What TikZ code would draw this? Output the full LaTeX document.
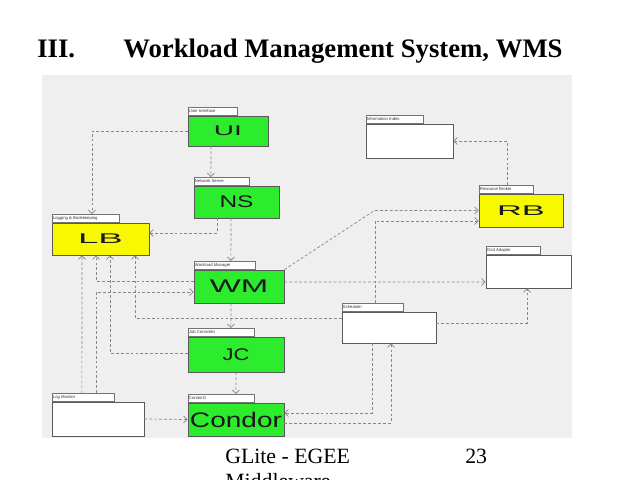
\documentclass[tikz,border=0pt]{standalone}
\usepackage{fontspec}
\setmainfont{Liberation Serif}
\newfontfamily\labelfont{Liberation Sans}
\usetikzlibrary{calc,arrows.meta,shadows}
\definecolor{panelgray}{RGB}{239,239,239}
\definecolor{boxgreen}{RGB}{45,235,45}
\definecolor{boxyellow}{RGB}{248,248,0}
\definecolor{linkgray}{RGB}{135,135,135}
\tikzset{
	pkg/.style 2 args={draw=black!65, line width=0.6pt, minimum width=#1, minimum height=#2, inner sep=0pt,
		font=\labelfont, text=black!90,
		drop shadow={shadow xshift=0.7pt, shadow yshift=-0.7pt, fill=black!55, opacity=1}},
	pkgtab/.style={draw=black!55, line width=0.4pt, fill=white, anchor=south west,
		minimum width=#1, minimum height=0.2cm, inner sep=0pt},
	tabtext/.style={anchor=west, inner sep=0.8pt, font=\labelfont\fontsize{3}{3}\selectfont, text=black!80},
	link/.style={draw=linkgray, line width=0.5pt, dash pattern=on 2pt off 1.5pt,
		-{Straight Barb[length=2.5pt,width=5pt]}},
}

\begin{document}
\begin{tikzpicture}[x=0.025cm, y=-0.025cm]
	\useasboundingbox (0,0) rectangle (640,480);
	\fill[panelgray] (42,75) rectangle (572,438);

	% title and footer
	\node[anchor=base west, inner sep=0pt, font=\bfseries\fontsize{19}{21}\selectfont] (num) at (37,57) {III.};
	\node[anchor=base west, inner sep=0pt, font=\bfseries\fontsize{19}{21}\selectfont] (title) at (123,57) {Workload Management System, WMS};
	\node[anchor=base west, inner sep=0pt, font=\fontsize{15.5}{18}\selectfont] (foot) at (225,463) {GLite - EGEE};
	\node[anchor=base west, inner sep=0pt, font=\fontsize{15.5}{18}\selectfont] (foot2) at (225,488) {Middleware};
	\node[anchor=base west, inner sep=0pt, font=\fontsize{15.5}{18}\selectfont] (page) at (465,463) {23};

	% packages
	\node[pkg={2cm}{0.75cm}, fill=boxgreen] (ui) at (228,131) {\fontsize{10}{10}\selectfont\scalebox{2}[1]{UI}};
	\node[pkg={2.125cm}{0.8cm}, fill=boxgreen] (ns) at (236.5,202) {\fontsize{12}{12}\selectfont\scalebox{1.45}[1]{NS}};
	\node[pkg={2.425cm}{0.8cm}, fill=boxyellow] (lb) at (100.5,239) {\fontsize{10}{10}\selectfont\scalebox{2.6}[1]{LB}};
	\node[pkg={2.175cm}{0.85cm}, fill=white] (ii) at (409.5,141) {};
	\node[pkg={2.1cm}{0.825cm}, fill=boxyellow] (rb) at (521,210.5) {\fontsize{10}{10}\selectfont\scalebox{2.45}[1]{RB}};
	\node[pkg={2.125cm}{0.825cm}, fill=white] (ga) at (528.5,271.5) {};
	\node[pkg={2.25cm}{0.825cm}, fill=boxgreen] (wm) at (239,286.5) {\fontsize{13}{13}\selectfont\scalebox{1.8}[1]{WM}};
	\node[pkg={2.4cm}{0.875cm}, fill=boxgreen] (jc) at (236,354.5) {\fontsize{12}{12}\selectfont\scalebox{1.3}[1]{JC}};
	\node[pkg={2.4cm}{0.825cm}, fill=boxgreen] (condor) at (236,419.5) {\fontsize{15}{15}\selectfont\scalebox{1.33}[1]{Condor}};
	\node[pkg={2.3cm}{0.85cm}, fill=white] (lm) at (98,419) {};
	\node[pkg={2.35cm}{0.775cm}, fill=white] (sc) at (389,327.5) {};

	% tabs
	\foreach \n/\w/\t in {ui/1.225cm/User Interface, ns/1.375cm/Network Server, lb/1.675cm/Logging \& Bookkeeping,
		ii/1.425cm/Information Index, rb/1.35cm/Resource Broker, ga/1.35cm/Grid Adapter,
		wm/1.525cm/Workload Manager, jc/1.65cm/Job Controller, condor/1.65cm/CondorG,
		lm/1.55cm/Log Monitor, sc/1.525cm/Scheduler} {
		\node[pkgtab=\w, label={[tabtext]west:\t}] (\n-tab) at (\n.north west) {};
	}

	% dependencies
	\draw[link] (ui.west) -| ($(lb-tab.north)+(6.5,0)$);
	\draw[link] ($(ui.south)+(-17,0)$) -- ($(ns-tab.north)+(-10.5,0)$);
	\draw[link] ($(ns.south)+(-19.5,0)$) |- ($(lb.east)+(0,-6)$);
	\draw[link] ($(ns.south)+(-5.5,0)$) -- ($(wm-tab.north)+(6.5,0)$);
	\draw[link] (wm.north east) -- ($(rb.west)+(-104,0)$) -- (rb.west);
	\draw[link] ($(sc-tab.north)+(2.5,0)$) |- ($(rb.west)+(0,10.5)$);
	\draw[link] ($(rb-tab.north)+(1,0)$) |- (ii.east);
	\draw[link] ($(wm.east)+(0,-4.5)$) -- ($(ga.west)+(0,10.5)$);
	\draw[link] ($(wm.west)+(0,-5.5)$) -| ($(lb.south)+(-4.5,0)$);
	\draw[link] ($(lm-tab.north)+(13,0)$) |- ($(wm.west)+(0,5.5)$);
	\draw[link] ($(lm-tab.north)+(-1,0)$) -- ($(lb.south)+(-18.5,0)$);
	\draw[link] ($(jc.west)+(0,-1.5)$) -| ($(lb.south)+(9.5,0)$);
	\draw[link] ($(sc.west)+(0,-9.5)$) -| ($(lb.south)+(34.5,0)$);
	\draw[link] ($(wm.south)+(-8,0)$) -- ($(jc-tab.north)+(10,0)$);
	\draw[link] (jc.south) -- ($(condor-tab.north)+(15,0)$);
	\draw[link] (lm.east) -- (condor.west);
	\draw[link] ($(sc.south)+(-17,0)$) |- ($(condor.east)+(0,-6.5)$);
	\draw[link] ($(condor.east)+(0,3.5)$) -| ($(sc.south)+(2,0)$);
	\draw[link] ($(sc.east)+(0,-4.5)$) -| ($(ga.south)+(-1.5,0)$);
\end{tikzpicture}
\end{document}
